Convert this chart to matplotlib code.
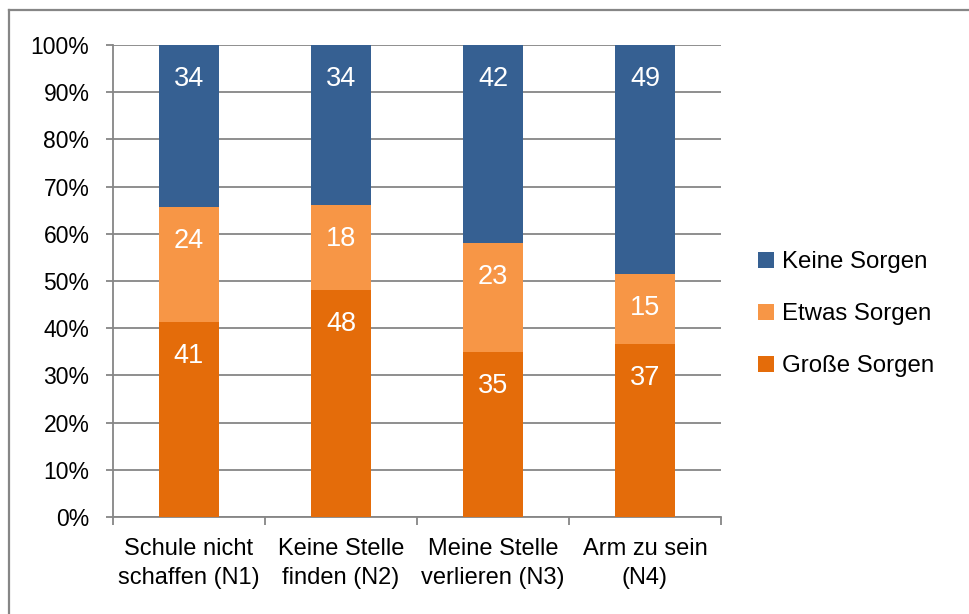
import matplotlib
matplotlib.use("Agg")
import matplotlib.pyplot as plt
from matplotlib.lines import Line2D
import numpy as np

plt.rcParams["font.family"] = ["Liberation Sans", "DejaVu Sans"]

categories = ["Schule nicht\nschaffen (N1)", "Keine Stelle\nfinden (N2)",
              "Meine Stelle\nverlieren (N3)", "Arm zu sein\n(N4)"]
grosse = [41, 48, 35, 37]
etwas = [24, 18, 23, 15]
keine = [34, 34, 42, 49]
series_names = ["Große Sorgen", "Etwas Sorgen", "Keine Sorgen"]
colors = ["#E46C0A", "#F79646", "#366092"]
GRID = "#868686"

data = np.array([grosse, etwas, keine], dtype=float)
shares = data / data.sum(axis=0) * 100

fig = plt.figure(figsize=(9.7, 6.14), dpi=100)
ax = fig.add_axes([113 / 970, 1 - 517 / 614, 608 / 970, 472 / 614])

x = np.arange(len(categories))
bottom = np.zeros(len(categories))
handles = []
for vals, raw, name, col in zip(shares, data, series_names, colors):
    bars = ax.bar(x, vals, 0.39, bottom=bottom, color=col, label=name, zorder=3)
    handles.append(bars)
    tops = bottom + vals
    for xi, top, r in zip(x, tops, raw):
        ax.annotate(f"{int(r)}", xy=(xi, top), xytext=(0, -34),
                    textcoords="offset pixels", ha="center", va="center",
                    color="white", fontsize=19.5, zorder=4)
    bottom = tops

ax.set_xlim(-0.5, 3.5)
ax.set_ylim(0, 100)
ax.set_yticks(np.arange(0, 101, 10))
ax.set_yticklabels([f"{v}%" for v in range(0, 101, 10)])
ax.yaxis.grid(True, color=GRID, linewidth=1.3, zorder=0)

ax.set_xticks(x)
ax.set_xticklabels(categories, linespacing=1.4)
ax.set_xticks(np.arange(-0.5, 4, 1), minor=True)
ax.tick_params(axis="x", which="major", length=0, pad=15, labelsize=17)
ax.tick_params(axis="x", which="minor", length=6, color=GRID, width=1.3)
ax.tick_params(axis="y", length=5, color=GRID, width=1.3, pad=12, labelsize=16.5)

for side in ["top", "right"]:
    ax.spines[side].set_visible(False)
for side in ["left", "bottom"]:
    ax.spines[side].set_color(GRID)
    ax.spines[side].set_linewidth(1.3)

ax.legend(handles[::-1], series_names[::-1], loc="center left",
          bbox_to_anchor=(758 / 970, 300 / 614), bbox_transform=fig.transFigure,
          frameon=False, fontsize=17.3, handlelength=0.65, handleheight=0.65,
          handletextpad=0.35, labelspacing=1.25, borderpad=0, borderaxespad=0)

# outer chart border
fig.add_artist(Line2D([9 / 970, 9 / 970], [0, 1 - 10 / 614], color=GRID,
                      linewidth=1.6, transform=fig.transFigure))
fig.add_artist(Line2D([9 / 970, 1], [1 - 10 / 614, 1 - 10 / 614], color=GRID,
                      linewidth=1.6, transform=fig.transFigure))

fig.savefig("out.png", dpi=100)
